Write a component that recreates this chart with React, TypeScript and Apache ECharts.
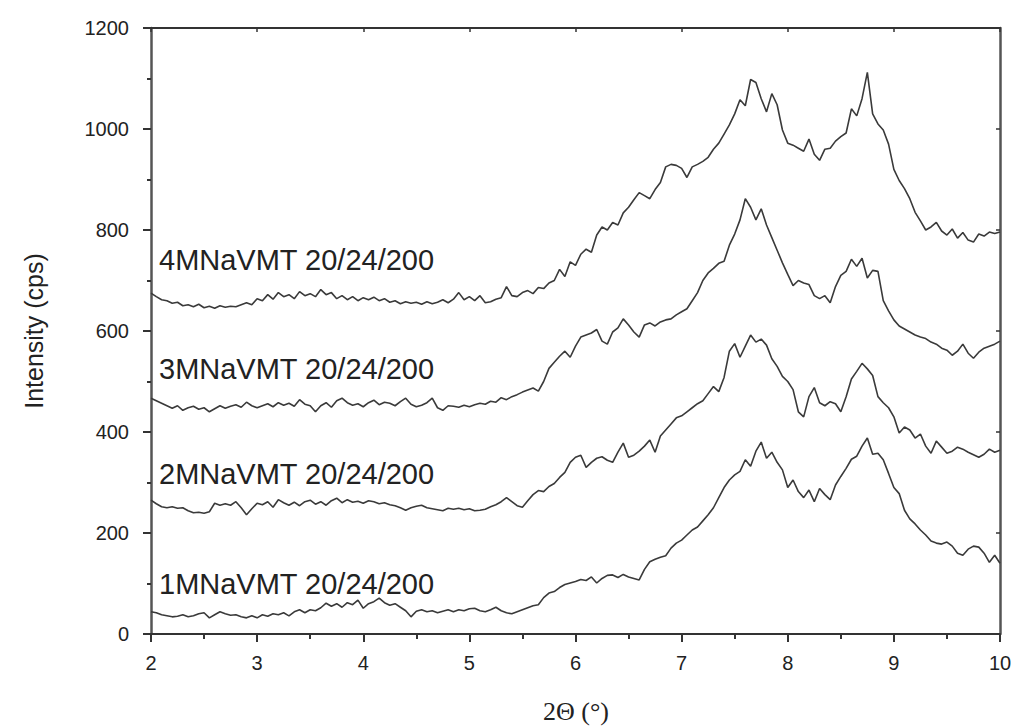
import React, { useEffect, useRef } from "react";
import * as echarts from "echarts";

// 2θ sampling grid: 2.00 … 10.00 in 0.05 steps (161 points)
const X_START = 2;
const X_STEP = 0.05;

const S4_VALUES = [
  675, 668, 662, 660, 655, 657, 650, 652, 648, 653, 646, 649, 645, 650, 647, 649, 648, 652, 656, 652,
  664, 660, 672, 663, 676, 668, 672, 664, 678, 670, 674, 668, 682, 672, 676, 664, 670, 662, 668, 660,
  666, 662, 667, 660, 664, 657, 660, 654, 658, 655, 657, 653, 658, 654, 657, 662, 656, 663, 676, 662,
  668, 660, 670, 656, 658, 663, 666, 688, 670, 668, 676, 680, 674, 686, 684, 695, 700, 722, 708, 737,
  730, 752, 762, 756, 790, 806, 800, 815, 810, 834, 845, 860, 874, 868, 862, 880, 894, 925, 930, 928,
  922, 904, 925, 930, 936, 944, 960, 972, 990, 1008, 1030, 1058, 1046, 1098, 1092, 1060, 1034, 1070, 1048, 998,
  972, 968, 962, 956, 980, 950, 938, 960, 962, 976, 985, 992, 1040, 1026, 1060, 1112, 1030, 1010, 998, 970,
  920, 898, 882, 862, 835, 818, 800, 806, 815, 798, 790, 802, 784, 795, 780, 776, 792, 788, 796, 793,
  796,
];

const S3_VALUES = [
  467, 462, 457, 452, 447, 452, 443, 448, 451, 445, 448, 440, 446, 452, 447, 451, 454, 449, 459, 452,
  448, 452, 456, 450, 458, 453, 457, 451, 464, 455, 452, 440, 452, 458, 449, 462, 467, 458, 453, 456,
  450, 458, 463, 454, 459, 457, 452, 460, 467, 455, 450, 453, 458, 467, 448, 443, 452, 451, 449, 453,
  450, 454, 457, 455, 461, 459, 468, 464, 470, 474, 479, 483, 487, 481, 500, 526, 538, 550, 560, 548,
  570, 588, 592, 596, 603, 580, 574, 598, 606, 624, 612, 598, 588, 612, 616, 610, 618, 622, 624, 632,
  638, 644, 660, 676, 700, 715, 724, 734, 738, 770, 792, 820, 862, 845, 820, 842, 810, 785, 760, 735,
  712, 690, 700, 695, 692, 670, 664, 670, 656, 688, 710, 718, 742, 728, 744, 705, 720, 718, 660, 640,
  622, 610, 604, 598, 592, 588, 585, 578, 574, 566, 562, 552, 560, 574, 556, 546, 558, 566, 570, 574,
  580,
];

const S2_VALUES = [
  265, 258, 252, 250, 252, 249, 250, 244, 240, 241, 239, 242, 259, 255, 258, 255, 262, 250, 236, 248,
  259, 256, 262, 251, 266, 260, 255, 261, 254, 262, 265, 257, 262, 255, 264, 269, 260, 266, 261, 263,
  259, 264, 262, 258, 260, 256, 254, 250, 245, 250, 253, 255, 250, 248, 246, 244, 249, 247, 249, 246,
  248, 244, 245, 247, 252, 256, 262, 270, 262, 254, 251, 264, 276, 284, 282, 292, 298, 310, 320, 340,
  350, 354, 330, 340, 348, 351, 344, 340, 360, 378, 350, 354, 362, 372, 384, 360, 392, 404, 416, 428,
  432, 440, 448, 456, 462, 476, 490, 480, 508, 560, 575, 548, 570, 592, 578, 584, 572, 545, 530, 510,
  500, 484, 440, 430, 470, 488, 458, 452, 460, 456, 440, 470, 505, 520, 536, 525, 512, 470, 458, 448,
  430, 398, 410, 404, 388, 396, 372, 358, 382, 370, 358, 362, 370, 366, 360, 355, 350, 356, 366, 360,
  364,
];

const S1_VALUES = [
  44, 42, 38, 36, 34, 35, 38, 34, 36, 40, 42, 32, 38, 44, 40, 37, 38, 34, 32, 36,
  32, 38, 35, 40, 38, 42, 36, 44, 48, 42, 48, 46, 52, 61, 55, 60, 53, 62, 58, 67,
  51, 60, 64, 71, 62, 57, 60, 53, 46, 34, 45, 48, 44, 46, 42, 45, 48, 44, 48, 46,
  50, 51, 46, 44, 48, 53, 46, 42, 40, 44, 48, 52, 56, 58, 72, 81, 84, 92, 98, 101,
  104, 108, 106, 113, 101, 110, 116, 117, 112, 118, 113, 110, 107, 128, 143, 148, 152, 155, 170, 180,
  186, 196, 206, 212, 224, 236, 250, 270, 290, 305, 315, 322, 345, 332, 362, 380, 348, 360, 340, 325,
  290, 305, 282, 270, 285, 262, 288, 276, 266, 295, 312, 328, 346, 352, 372, 388, 356, 358, 345, 318,
  290, 278, 245, 228, 218, 206, 196, 184, 180, 178, 182, 174, 160, 156, 168, 174, 172, 160, 142, 156,
  140,
];

const SERIES_NAMES = [
  "1MNaVMT 20/24/200",
  "2MNaVMT 20/24/200",
  "3MNaVMT 20/24/200",
  "4MNaVMT 20/24/200",
];

const X_TICKS = [2, 3, 4, 5, 6, 7, 8, 9, 10];
const Y_TICKS = [0, 200, 400, 600, 800, 1000, 1200];

const toPairs = (vals: number[]) =>
  vals.map((v, i) => [Number((X_START + i * X_STEP).toFixed(2)), v]);

export default function App() {
  const ref = useRef<HTMLDivElement>(null);

  useEffect(() => {
    if (!ref.current) return;
    const chart = echarts.init(ref.current, undefined, { renderer: "svg" });
    const axisColor = "#333";
    const labelColor = "#222";
    const sans = "Liberation Sans, Arial, sans-serif";
    const allSeries = [S1_VALUES, S2_VALUES, S3_VALUES, S4_VALUES];
    const labelY = [584, 474, 369, 260];

    chart.setOption({
      animation: false,
      backgroundColor: "#fff",
      grid: { left: 151, right: 15, top: 28, bottom: 93, containLabel: false },
      xAxis: [
        {
          type: "value",
          min: X_TICKS[0],
          max: X_TICKS[X_TICKS.length - 1],
          interval: 1,
          position: "bottom",
          axisLine: { show: true, onZero: false, lineStyle: { color: axisColor, width: 2 } },
          axisTick: { show: true, length: 8, lineStyle: { color: axisColor, width: 2 } },
          minorTick: { show: true, splitNumber: 2, length: 5, lineStyle: { color: axisColor, width: 2 } },
          axisLabel: {
            color: labelColor,
            fontSize: 20,
            fontFamily: sans,
            margin: 19,
            formatter: (v: number) => String(v),
          },
          splitLine: { show: false },
        },
        {
          type: "value",
          min: X_TICKS[0],
          max: X_TICKS[X_TICKS.length - 1],
          interval: 1,
          position: "top",
          axisLine: { show: true, onZero: false, lineStyle: { color: axisColor, width: 2 } },
          axisTick: { show: true, inside: true, length: 4, lineStyle: { color: axisColor, width: 1.5 } },
          axisLabel: { show: false },
          splitLine: { show: false },
        },
      ],
      yAxis: [
        {
          type: "value",
          min: Y_TICKS[0],
          max: Y_TICKS[Y_TICKS.length - 1],
          interval: 200,
          position: "left",
          axisLine: { show: true, onZero: false, lineStyle: { color: "#555", width: 2.5 } },
          axisTick: { show: true, length: 8, lineStyle: { color: axisColor, width: 2 } },
          minorTick: { show: true, splitNumber: 2, length: 4, lineStyle: { color: axisColor, width: 2 } },
          axisLabel: {
            color: labelColor,
            fontSize: 20,
            fontFamily: sans,
            margin: 22,
            formatter: (v: number) => String(v),
          },
          splitLine: { show: false },
        },
        {
          type: "value",
          min: Y_TICKS[0],
          max: Y_TICKS[Y_TICKS.length - 1],
          interval: 200,
          position: "right",
          axisLine: { show: true, onZero: false, lineStyle: { color: "#555", width: 2.5 } },
          axisTick: { show: true, inside: true, length: 4, lineStyle: { color: axisColor, width: 1.5 } },
          axisLabel: { show: false },
          splitLine: { show: false },
        },
      ],
      series: allSeries.map((vals, k) => ({
        name: SERIES_NAMES[k],
        type: "line",
        xAxisIndex: 0,
        yAxisIndex: 0,
        data: toPairs(vals),
        showSymbol: false,
        symbol: "none",
        lineStyle: { color: "#3a3a3a", width: 1.6 },
        z: 3,
      })),
      graphic: [
        ...SERIES_NAMES.map((name, k) => ({
          type: "text",
          x: 159,
          y: labelY[k],
          style: {
            text: name,
            fill: "#222",
            fontSize: 29,
            fontFamily: sans,
            align: "left",
            verticalAlign: "middle",
          },
        })),
        {
          type: "text",
          x: 34,
          y: 331,
          rotation: Math.PI / 2,
          style: {
            text: "Intensity (cps)",
            fill: "#222",
            fontSize: 25,
            fontFamily: sans,
            align: "center",
            verticalAlign: "middle",
          },
        },
        {
          type: "text",
          x: 576,
          y: 711,
          style: {
            text: "2Θ (°)",
            fill: "#222",
            fontSize: 26,
            fontFamily: "Liberation Serif, Times New Roman, serif",
            align: "center",
            verticalAlign: "middle",
          },
        },
      ],
    });

    return () => chart.dispose();
  }, []);

  return <div ref={ref} style={{ width: 1015, height: 727, position: "absolute", left: 0, top: 0 }} />;
}
